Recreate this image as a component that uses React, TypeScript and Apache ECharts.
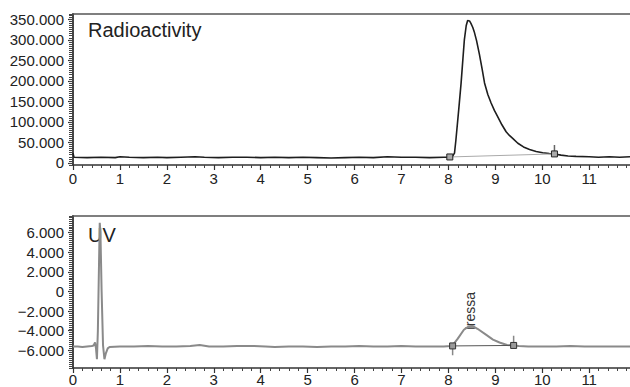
import React, { useEffect, useRef } from "react";
import * as echarts from "echarts";

// Radioactivity trace (time in min, value in thousands of counts)
const radTime = [0, 0.02, 0.3, 0.6, 0.9, 1.0, 1.2, 1.5, 1.8, 2.0, 2.3, 2.6, 2.8, 3.1, 3.4, 3.7, 4.0, 4.3, 4.6, 4.9, 5.2, 5.5, 5.8, 6.1, 6.4, 6.7, 7.0, 7.3, 7.6, 7.9,
  8.0, 8.08, 8.13, 8.16, 8.22, 8.27, 8.31, 8.34, 8.38, 8.41, 8.45, 8.48, 8.52, 8.55, 8.6, 8.66, 8.72, 8.77, 8.84, 8.91, 8.98, 9.05, 9.14, 9.23, 9.3, 9.37, 9.48, 9.6, 9.73, 9.87, 10.01, 10.15, 10.26, 10.4, 10.55, 10.72, 11.0, 11.2, 11.43, 11.65, 11.87];
const radValue = [24, 14, 13, 14, 13, 15, 14, 13, 14, 13, 14, 15, 14, 13, 14, 14, 13, 14, 13, 14, 13, 12, 13, 14, 13, 15, 14, 14, 13, 14,
  14, 15, 24, 56, 130, 194, 255, 300, 335, 347, 346, 340, 330, 320, 298, 265, 228, 195, 167, 146, 128, 113, 93, 76, 67, 60, 48, 39, 33, 28, 25, 23, 22, 19, 17, 16, 15, 14, 15, 14, 15];
const radIntegration = [[8.03, 14.6], [10.26, 22]];
const radMarkTick = [[10.26, 22], [10.26, 44]];

// UV trace (time in min, value in thousands)
const uvTime = [0, 0.1, 0.2, 0.3, 0.4, 0.44, 0.47, 0.49, 0.51, 0.53, 0.555, 0.57, 0.585, 0.61, 0.64, 0.67, 0.7, 0.74, 0.78, 1.0, 1.3, 1.6, 1.9, 2.2, 2.5, 2.7, 2.9, 3.2, 3.5, 3.8, 4.1, 4.3, 4.6, 4.9, 5.2, 5.5, 5.8, 6.1, 6.4, 6.7, 7.0, 7.3, 7.6, 7.9,
  8.05, 8.09, 8.2, 8.33, 8.42, 8.51, 8.62, 8.8, 8.95, 9.09, 9.25, 9.39, 9.5, 9.7, 10.0, 10.3, 10.6, 10.9, 11.2, 11.5, 11.87];
const uvValue = [-5.6, -5.6, -5.65, -5.6, -5.55, -5.5, -5.2, -5.8, -6.9, -4.0, 3.0, 7.0, 6.0, 0, -5.5, -6.9, -6.3, -5.8, -5.65, -5.6, -5.6, -5.55, -5.6, -5.6, -5.55, -5.45, -5.6, -5.6, -5.55, -5.55, -5.6, -5.65, -5.6, -5.6, -5.65, -5.6, -5.6, -5.55, -5.6, -5.6, -5.55, -5.6, -5.6, -5.6,
  -5.55, -5.5, -4.8, -3.9, -3.6, -3.5, -3.8, -4.4, -4.9, -5.2, -5.45, -5.5, -5.55, -5.6, -5.6, -5.6, -5.55, -5.6, -5.6, -5.6, -5.6];
const uvIntegration = [[8.09, -5.55], [9.39, -5.5]];
const uvMarkTickA = [[8.09, -5.5], [8.09, -6.5]];
const uvMarkTickB = [[9.39, -5.5], [9.39, -4.5]];

const xTicks = [0, 1, 2, 3, 4, 5, 6, 7, 8, 9, 10, 11];
const radTicks = [0, 50, 100, 150, 200, 250, 300, 350];
const uvTicks = [-6, -4, -2, 0, 2, 4, 6];

const FONT = "'Liberation Sans', Arial, sans-serif";

function zip(t: number[], v: number[]) {
  return t.map((x, i) => [x, v[i]]);
}

function fmt(v: number) {
  if (v === 0) return "0";
  return (v < 0 ? "\u2212" : "") + Math.abs(v) + ".000";
}

export default function App() {
  const ref = useRef<HTMLDivElement>(null);
  useEffect(() => {
    if (!ref.current) return;
    const chart = echarts.init(ref.current, null, { renderer: "svg" });

    const bottomX = (gridIndex: number, margin: number) => ({
      type: "value",
      gridIndex,
      min: 0,
      max: 11.87,
      interval: 1,
      axisLine: { show: true, onZero: false, lineStyle: { color: "#333", width: 1.5 } },
      axisTick: { show: true, length: 5, lineStyle: { color: "#333", width: 1.2 }, customValues: xTicks },
      minorTick: { show: true, splitNumber: 5, length: 3, lineStyle: { color: "#444", width: 1 } },
      axisLabel: {
        fontSize: 15,
        color: "#222",
        fontFamily: FONT,
        margin,
        customValues: xTicks,
        formatter: (v: number) => String(v),
      },
      splitLine: { show: false },
    });
    const topX = (gridIndex: number) => ({
      type: "value",
      gridIndex,
      position: "top",
      min: 0,
      max: 11.87,
      axisLine: { show: true, onZero: false, lineStyle: { color: "#555", width: 1.5 } },
      axisTick: { show: false },
      axisLabel: { show: false },
      splitLine: { show: false },
    });
    const mainY = (gridIndex: number, min: number, max: number, ticks: number[]) => ({
      type: "value",
      gridIndex,
      min,
      max,
      position: "left",
      axisLine: { show: true, onZero: false, lineStyle: { color: "#333", width: 1.8 } },
      axisTick: { show: true, length: 5, lineStyle: { color: "#333", width: 1.2 }, customValues: ticks },
      axisLabel: {
        fontSize: 15,
        color: "#222",
        fontFamily: FONT,
        margin: 9,
        customValues: ticks,
        formatter: (v: number) => fmt(v),
      },
      splitLine: { show: false },
    });
    // dense secondary ticks along the y axis
    const denseY = (gridIndex: number, min: number, max: number, interval: number) => ({
      type: "value",
      gridIndex,
      min,
      max,
      interval,
      position: "left",
      offset: 0,
      axisLine: { show: false, onZero: false },
      axisTick: { show: true, length: 4, lineStyle: { color: "#444", width: 1 } },
      axisLabel: { show: false },
      splitLine: { show: false },
    });

    const line = (data: number[][], xi: number, yi: number, color: string, width: number, extra: any = {}) => ({
      type: "line",
      xAxisIndex: xi,
      yAxisIndex: yi,
      data,
      showSymbol: false,
      symbol: "none",
      lineStyle: { color, width },
      silent: true,
      ...extra,
    });

    chart.setOption({
      animation: false,
      textStyle: { fontFamily: FONT },
      grid: [
        { left: 73, top: 14, right: 0, height: 151 },
        { left: 73, top: 216, right: 0, height: 155 },
      ],
      xAxis: [bottomX(0, 6), topX(0), bottomX(1, 4), topX(1)],
      yAxis: [
        mainY(0, -5, 363, radTicks),
        denseY(0, -5, 363, 5),
        mainY(1, -7.8, 7.7, uvTicks),
        denseY(1, -7.8, 7.7, 0.2),
      ],
      series: [
        line(radIntegration, 0, 0, "#aaa", 1, {
          symbol: "rect",
          showSymbol: true,
          symbolSize: 6,
          itemStyle: { color: "#aaa", borderColor: "#222", borderWidth: 1 },
          z: 3,
        }),
        line(radMarkTick, 0, 0, "#666", 1.5),
        line(zip(radTime, radValue), 0, 0, "#1e1e1e", 1.6, { z: 2 }),
        line(zip(uvTime, uvValue), 2, 2, "#8a8a8a", 2, { z: 2 }),
        line(uvIntegration, 2, 2, "#555", 1, {
          symbol: "rect",
          showSymbol: true,
          symbolSize: 6,
          itemStyle: { color: "#999", borderColor: "#333", borderWidth: 1 },
          z: 3,
        }),
        line(uvMarkTickA, 2, 2, "#888", 1.5),
        line(uvMarkTickB, 2, 2, "#888", 1.5),
      ],
      graphic: [
        {
          type: "text",
          left: 88,
          top: 20,
          style: { text: "Radioactivity", font: `20px ${FONT}`, fill: "#222" },
        },
        {
          type: "text",
          left: 88,
          top: 225,
          style: { text: "UV", font: `20px ${FONT}`, fill: "#222" },
        },
        {
          type: "text",
          x: 470,
          y: 311,
          rotation: Math.PI / 2,
          style: { text: "Iressa", font: `14px ${FONT}`, fill: "#333", align: "center", verticalAlign: "middle" },
        },
      ],
    });
    return () => chart.dispose();
  }, []);
  return <div ref={ref} style={{ position: "absolute", left: 0, top: 0, width: 630, height: 387 }} />;
}
